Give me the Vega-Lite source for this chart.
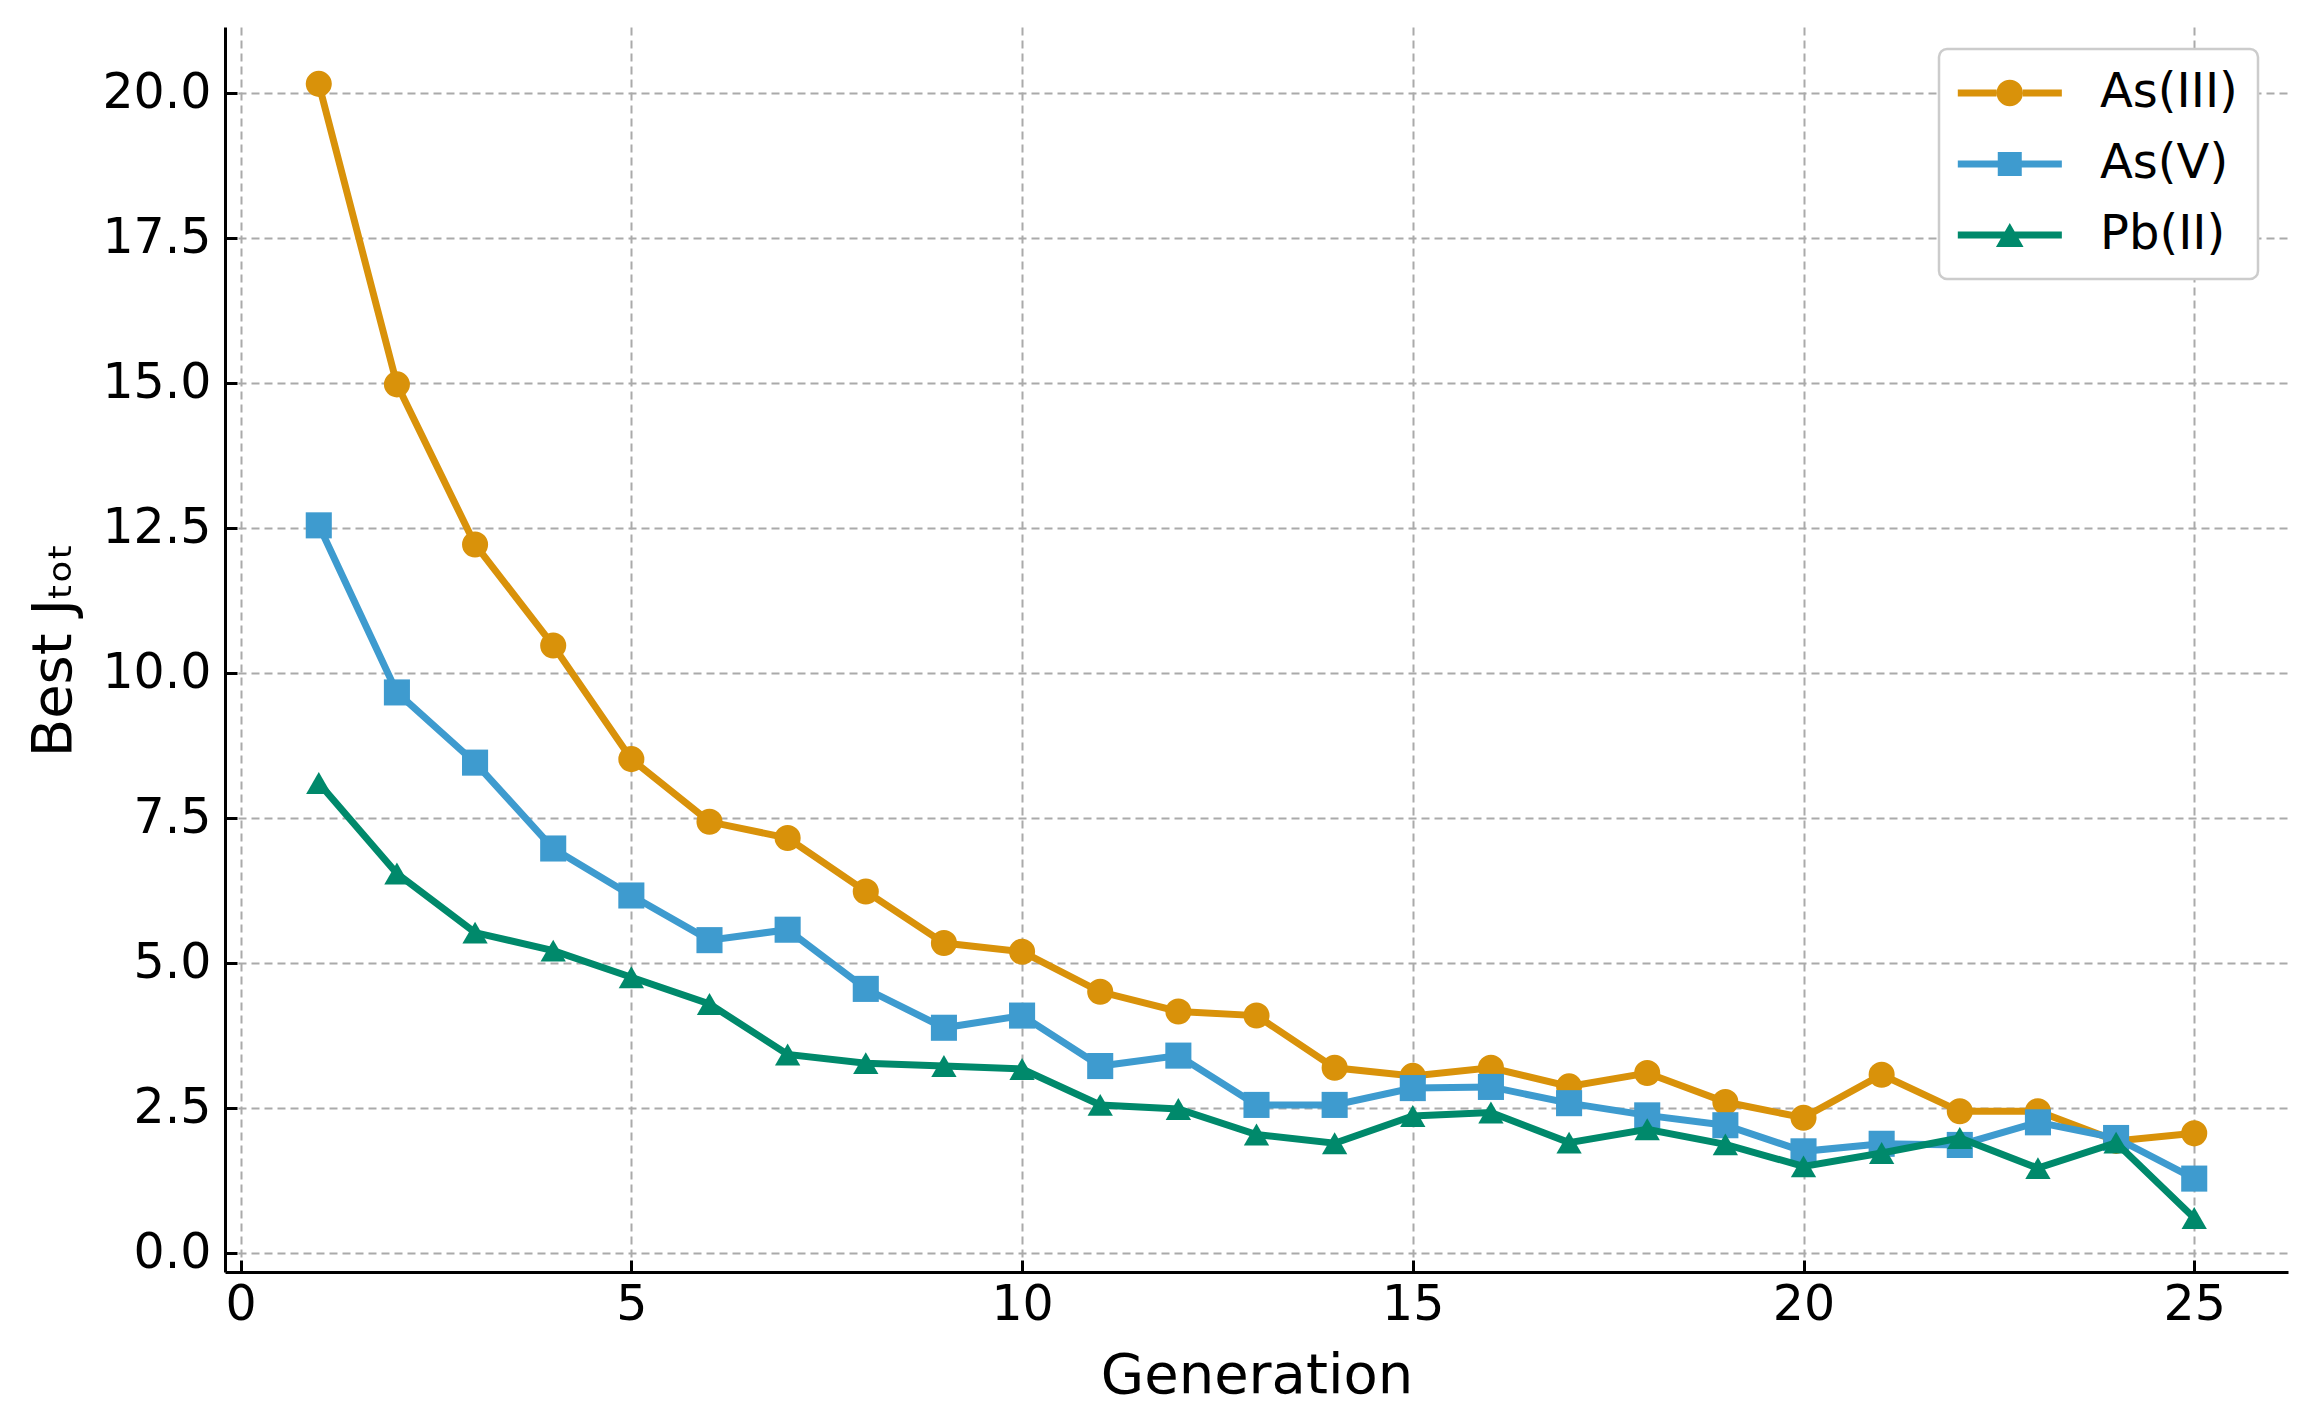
{
  "$schema": "https://vega.github.io/schema/vega-lite/v6.json",
  "width": 2063,
  "height": 1245,
  "autosize": "none",
  "padding": {"left": 225, "top": 27, "right": 26, "bottom": 141},
  "background": "white",
  "config": {
    "view": {"stroke": null},
    "font": "DejaVu Sans",
    "axis": {
      "labelFont": "DejaVu Sans",
      "titleFont": "DejaVu Sans",
      "labelFontSize": 49,
      "titleFontSize": 56,
      "labelColor": "#000000",
      "titleColor": "#000000",
      "titleFontWeight": "normal",
      "domainColor": "#000000",
      "domainWidth": 3,
      "tickColor": "#000000",
      "tickWidth": 3,
      "tickSize": -12,
      "grid": true,
      "gridColor": "#aaaaaa",
      "gridDash": [8, 5],
      "gridWidth": 2
    }
  },
  "data": {
    "values": [
      {"gen": 1, "ion": "As(III)", "J": 20.15},
      {"gen": 2, "ion": "As(III)", "J": 14.97},
      {"gen": 3, "ion": "As(III)", "J": 12.21},
      {"gen": 4, "ion": "As(III)", "J": 10.47},
      {"gen": 5, "ion": "As(III)", "J": 8.51},
      {"gen": 6, "ion": "As(III)", "J": 7.43},
      {"gen": 7, "ion": "As(III)", "J": 7.15},
      {"gen": 8, "ion": "As(III)", "J": 6.23},
      {"gen": 9, "ion": "As(III)", "J": 5.34},
      {"gen": 10, "ion": "As(III)", "J": 5.19},
      {"gen": 11, "ion": "As(III)", "J": 4.5},
      {"gen": 12, "ion": "As(III)", "J": 4.16},
      {"gen": 13, "ion": "As(III)", "J": 4.09},
      {"gen": 14, "ion": "As(III)", "J": 3.19},
      {"gen": 15, "ion": "As(III)", "J": 3.05},
      {"gen": 16, "ion": "As(III)", "J": 3.19},
      {"gen": 17, "ion": "As(III)", "J": 2.87},
      {"gen": 18, "ion": "As(III)", "J": 3.1},
      {"gen": 19, "ion": "As(III)", "J": 2.6},
      {"gen": 20, "ion": "As(III)", "J": 2.33},
      {"gen": 21, "ion": "As(III)", "J": 3.07},
      {"gen": 22, "ion": "As(III)", "J": 2.44},
      {"gen": 23, "ion": "As(III)", "J": 2.44},
      {"gen": 24, "ion": "As(III)", "J": 1.93},
      {"gen": 25, "ion": "As(III)", "J": 2.06},
      {"gen": 1, "ion": "As(V)", "J": 12.54},
      {"gen": 2, "ion": "As(V)", "J": 9.66},
      {"gen": 3, "ion": "As(V)", "J": 8.45},
      {"gen": 4, "ion": "As(V)", "J": 6.97},
      {"gen": 5, "ion": "As(V)", "J": 6.16},
      {"gen": 6, "ion": "As(V)", "J": 5.39},
      {"gen": 7, "ion": "As(V)", "J": 5.57},
      {"gen": 8, "ion": "As(V)", "J": 4.55},
      {"gen": 9, "ion": "As(V)", "J": 3.88},
      {"gen": 10, "ion": "As(V)", "J": 4.09},
      {"gen": 11, "ion": "As(V)", "J": 3.22},
      {"gen": 12, "ion": "As(V)", "J": 3.4},
      {"gen": 13, "ion": "As(V)", "J": 2.55},
      {"gen": 14, "ion": "As(V)", "J": 2.55},
      {"gen": 15, "ion": "As(V)", "J": 2.84},
      {"gen": 16, "ion": "As(V)", "J": 2.86},
      {"gen": 17, "ion": "As(V)", "J": 2.58},
      {"gen": 18, "ion": "As(V)", "J": 2.37},
      {"gen": 19, "ion": "As(V)", "J": 2.2},
      {"gen": 20, "ion": "As(V)", "J": 1.75},
      {"gen": 21, "ion": "As(V)", "J": 1.88},
      {"gen": 22, "ion": "As(V)", "J": 1.86},
      {"gen": 23, "ion": "As(V)", "J": 2.25},
      {"gen": 24, "ion": "As(V)", "J": 1.98},
      {"gen": 25, "ion": "As(V)", "J": 1.28},
      {"gen": 1, "ion": "Pb(II)", "J": 8.1},
      {"gen": 2, "ion": "Pb(II)", "J": 6.54},
      {"gen": 3, "ion": "Pb(II)", "J": 5.52},
      {"gen": 4, "ion": "Pb(II)", "J": 5.21},
      {"gen": 5, "ion": "Pb(II)", "J": 4.75},
      {"gen": 6, "ion": "Pb(II)", "J": 4.29},
      {"gen": 7, "ion": "Pb(II)", "J": 3.42},
      {"gen": 8, "ion": "Pb(II)", "J": 3.27},
      {"gen": 9, "ion": "Pb(II)", "J": 3.22},
      {"gen": 10, "ion": "Pb(II)", "J": 3.17},
      {"gen": 11, "ion": "Pb(II)", "J": 2.55},
      {"gen": 12, "ion": "Pb(II)", "J": 2.48},
      {"gen": 13, "ion": "Pb(II)", "J": 2.04},
      {"gen": 14, "ion": "Pb(II)", "J": 1.89},
      {"gen": 15, "ion": "Pb(II)", "J": 2.36},
      {"gen": 16, "ion": "Pb(II)", "J": 2.42},
      {"gen": 17, "ion": "Pb(II)", "J": 1.9},
      {"gen": 18, "ion": "Pb(II)", "J": 2.13},
      {"gen": 19, "ion": "Pb(II)", "J": 1.87},
      {"gen": 20, "ion": "Pb(II)", "J": 1.49},
      {"gen": 21, "ion": "Pb(II)", "J": 1.72},
      {"gen": 22, "ion": "Pb(II)", "J": 1.98},
      {"gen": 23, "ion": "Pb(II)", "J": 1.46},
      {"gen": 24, "ion": "Pb(II)", "J": 1.9},
      {"gen": 25, "ion": "Pb(II)", "J": 0.6}
    ]
  },
  "encoding": {
    "x": {
      "field": "gen",
      "type": "quantitative",
      "title": "Generation",
      "scale": {"domain": [-0.2, 26.2], "nice": false, "zero": false},
      "axis": {"values": [0, 5, 10, 15, 20, 25], "format": "d", "labelPadding": 20, "titlePadding": 19}
    },
    "y": {
      "field": "J",
      "type": "quantitative",
      "title": "Best Jₜₒₜ",
      "scale": {"domain": [-0.33, 21.13], "nice": false, "zero": false},
      "axis": {"values": [0, 2.5, 5, 7.5, 10, 12.5, 15, 17.5, 20], "format": ".1f", "labelPadding": 26, "titlePadding": 19}
    },
    "color": {
      "field": "ion",
      "type": "nominal",
      "scale": {"domain": ["As(III)", "As(V)", "Pb(II)"], "range": ["#D9920A", "#3E9BCF", "#00896B"]},
      "legend": {
        "title": null,
        "orient": "none",
        "legendX": 1714,
        "legendY": 22,
        "labelFont": "DejaVu Sans",
        "labelFontSize": 48,
        "labelColor": "#000000",
        "symbolSize": 576,
        "labelOffset": 93,
        "rowPadding": 23,
        "padding": 20,
        "fillColor": "white",
        "strokeColor": "#cccccc",
        "cornerRadius": 8,
        "encode": {
          "legend": {"update": {"strokeWidth": {"value": 2.5}}},
          "symbols": {
            "update": {
              "shape": {"signal": "datum.value === 'As(III)' ? 'M-2.1,-0.3H1.13V0.3H-2.1Z M3.33,-0.3H6.57V0.3H3.33Z M1.13,0A1.1,1.1 0 1,1 3.33,0A1.1,1.1 0 1,1 1.13,0Z' : datum.value === 'As(V)' ? 'M-2.1,-0.3H1.23V0.3H-2.1Z M3.23,-0.3H6.57V0.3H3.23Z M1.23,-1H3.23V1H1.23Z' : 'M-2.1,-0.3H6.57V0.3H-2.1Z M2.23,-1L3.38,1L1.08,1Z'"},
              "fill": {"scale": "color", "field": "value"},
              "stroke": {"value": "transparent"},
              "strokeWidth": {"value": 0},
              "opacity": {"value": 1}
            }
          }
        }
      }
    }
  },
  "layer": [
    {
      "transform": [{"filter": "datum.ion === 'As(III)'"}],
      "mark": {"type": "line", "strokeWidth": 7}
    },
    {
      "transform": [{"filter": "datum.ion === 'As(III)'"}],
      "mark": {"type": "point", "filled": true, "opacity": 1, "size": 680, "shape": "circle"}
    },
    {
      "transform": [{"filter": "datum.ion === 'As(V)'"}],
      "mark": {"type": "line", "strokeWidth": 7}
    },
    {
      "transform": [{"filter": "datum.ion === 'As(V)'"}],
      "mark": {"type": "point", "filled": true, "opacity": 1, "size": 680, "shape": "square"}
    },
    {
      "transform": [{"filter": "datum.ion === 'Pb(II)'"}],
      "mark": {"type": "line", "strokeWidth": 7}
    },
    {
      "transform": [{"filter": "datum.ion === 'Pb(II)'"}],
      "mark": {"type": "point", "filled": true, "opacity": 1, "size": 640, "shape": "triangle-up"}
    }
  ]
}
